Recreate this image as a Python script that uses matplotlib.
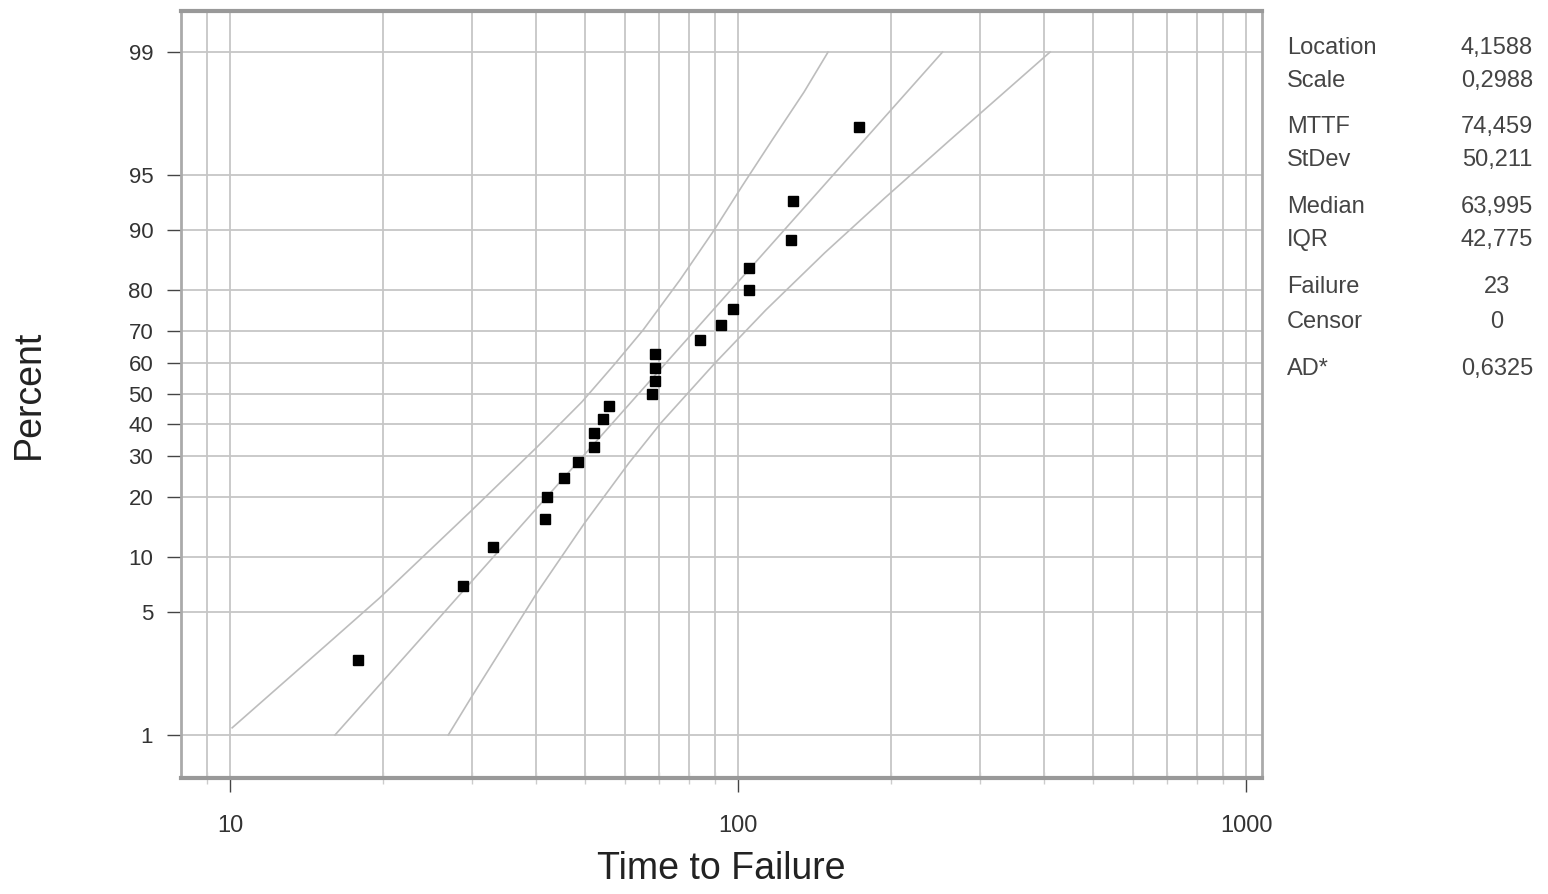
import matplotlib
matplotlib.use('Agg')
import matplotlib.pyplot as plt
from matplotlib.ticker import FixedLocator, NullLocator, LogLocator, NullFormatter

plt.rcParams['font.family'] = ['Liberation Sans', 'DejaVu Sans']

# failure times and plotting positions (percent)
times = [17.9, 28.8, 32.9, 41.7, 42.1, 45.4, 48.4, 52.1, 52.1, 54.2, 55.7,
         67.7, 68.6, 68.6, 68.6, 84.2, 92.6, 97.8, 105.1, 105.1, 127.1, 128.2, 173.0]
pct = [2.69, 6.99, 11.29, 15.59, 19.89, 24.19, 28.49, 32.80, 37.10, 41.40, 45.70,
       50.00, 54.30, 58.60, 62.90, 67.20, 71.51, 75.81, 80.11, 84.41, 88.71, 93.01, 97.31]

# fitted line
fit_t = [16.1, 252.7]
fit_p = [1.0, 99.0]

# confidence bands
lo_t = [10.1, 15.7, 19.7, 29.7, 40.2, 49.3, 57.0, 65.0, 76.9, 89.7, 101.8, 116.7, 134.9, 150.4]
lo_p = [1.1, 3.4, 6.0, 16.9, 32.7, 47.2, 59.5, 70.1, 82.2, 90.0, 94.2, 96.8, 98.3, 99.0]
hi_t = [26.9, 29.9, 40.2, 49.9, 61.0, 70.5, 90.1, 113.5, 148.1, 194.7, 261.2, 411.4]
hi_p = [1.0, 1.66, 6.4, 14.9, 28.2, 40.2, 60.1, 75.5, 86.9, 93.3, 96.8, 99.0]

y_ticks = [1, 5, 10, 20, 30, 40, 50, 60, 70, 80, 90, 95, 99]
x_ticks = [10, 100, 1000]

stat_names = ['Location', 'Scale', 'MTTF', 'StDev', 'Median', 'IQR', 'Failure', 'Censor', 'AD*']
stat_vals = ['4,1588', '0,2988', '74,459', '50,211', '63,995', '42,775', '23', '0', '0,6325']
stat_rows_px = [48, 81, 127, 160, 207, 240, 287, 322, 369]

W, H = 1548, 894
fig = plt.figure(figsize=(W / 100, H / 100), dpi=100)
ax = fig.add_axes([181 / W, 1 - 778 / H, (1262 - 181) / W, (778 - 11) / H])

ax.set_xscale('log')
ax.set_yscale('logit')
ax.set_xlim(8.01, 1075)
ax.set_ylim(0.005628, 0.99422)

gc = '#c6c6c6'
lc = '#bdbdbd'
ax.plot(lo_t, [p / 100 for p in lo_p], color=lc, lw=1.2, zorder=2)
ax.plot(hi_t, [p / 100 for p in hi_p], color=lc, lw=1.2, zorder=2)
ax.plot(fit_t, [p / 100 for p in fit_p], color=lc, lw=1.2, zorder=2)
ax.plot(times, [p / 100 for p in pct], 's', color='black', markersize=6.5, zorder=3)

ax.yaxis.set_major_locator(FixedLocator([v / 100 for v in y_ticks]))
ax.yaxis.set_minor_locator(NullLocator())
ax.set_yticklabels([str(v) for v in y_ticks])
ax.xaxis.set_major_locator(FixedLocator(x_ticks))
ax.set_xticklabels([str(v) for v in x_ticks])
ax.xaxis.set_minor_locator(LogLocator(base=10, subs=range(2, 10)))
ax.xaxis.set_minor_formatter(NullFormatter())

ax.grid(True, which='both', axis='x', color=gc, lw=1.3, zorder=0)
ax.grid(True, which='major', axis='y', color=gc, lw=1.3, zorder=0)
ax.set_axisbelow(True)

ax.tick_params(axis='y', which='major', length=10, width=1, color='#444444',
               labelsize=16, labelcolor='#333333', pad=10)
ax.tick_params(axis='x', which='major', length=10, width=1, color='#444444',
               labelsize=17, labelcolor='#333333', pad=17)
ax.tick_params(axis='x', which='minor', length=8, width=1, color='#cccccc', direction='inout')

for side in ['top', 'bottom']:
    ax.spines[side].set_color('#999999')
    ax.spines[side].set_linewidth(3)
for side in ['left', 'right']:
    ax.spines[side].set_color('#aaaaaa')
    ax.spines[side].set_linewidth(2)

ax.set_xlabel('Time to Failure', fontsize=27, color='#222222', labelpad=10)
ax.set_ylabel('Percent', fontsize=27, color='#222222')
ax.yaxis.set_label_coords((47 - 181) / 1081, 0.5)

for name, val, ypx in zip(stat_names, stat_vals, stat_rows_px):
    fig.text(1287 / W, 1 - ypx / H, name, fontsize=17, color='#444444',
             ha='left', va='center')
    fig.text(1497 / W, 1 - ypx / H, val, fontsize=17, color='#444444',
             ha='center', va='center')

fig.savefig('out.png', dpi=100)
